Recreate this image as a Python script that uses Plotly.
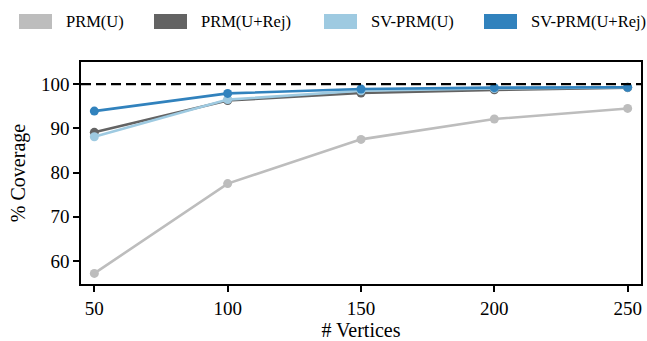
import plotly.graph_objects as go

vertices = [50, 100, 150, 200, 250]
series_names = ["PRM(U)", "PRM(U+Rej)", "SV-PRM(U)", "SV-PRM(U+Rej)"]
prm_u = [57.2, 77.5, 87.5, 92.1, 94.5]
prm_u_rej = [89.1, 96.3, 98.0, 98.7, 99.2]
sv_prm_u = [88.1, 96.5, 98.5, 99.0, 99.3]
sv_prm_u_rej = [93.9, 97.9, 98.9, 99.2, 99.3]
colors = ["#bdbdbd", "#636363", "#9ecae1", "#3182bd"]
y_ticks = [60, 70, 80, 90, 100]
x_ticks = [50, 100, 150, 200, 250]

FONT = "Liberation Serif"
W, H = 647, 341
ml, mr, mt, mb = 81, 6, 62, 57

fig = go.Figure()
for name, ys, c in zip(series_names, [prm_u, prm_u_rej, sv_prm_u, sv_prm_u_rej], colors):
    fig.add_trace(go.Scatter(x=vertices, y=ys, mode="lines+markers", name=name,
                             line=dict(color=c, width=2.6),
                             marker=dict(color=c, size=9), showlegend=False))

fig.add_shape(type="line", xref="paper", yref="y", x0=0, x1=1, y0=100, y1=100,
              line=dict(color="black", width=2.2, dash="10px,5px"))

def px_to_paper_x(px):
    return (px - ml) / (W - ml - mr)
def py_to_paper_y(py):
    return (H - mb - py) / (H - mt - mb)

leg_x = [19, 154, 324, 484]
for lx, name, c in zip(leg_x, series_names, colors):
    fig.add_shape(type="rect", xref="paper", yref="paper",
                  x0=px_to_paper_x(lx), x1=px_to_paper_x(lx + 33),
                  y0=py_to_paper_y(29), y1=py_to_paper_y(14),
                  fillcolor=c, line=dict(width=0))
    fig.add_annotation(xref="paper", yref="paper", x=px_to_paper_x(lx + 45),
                       y=py_to_paper_y(21.5), text=name, showarrow=False,
                       xanchor="left", yanchor="middle",
                       font=dict(family=FONT, size=16.5, color="black"))

fig.update_layout(
    template="none",
    width=W, height=H, margin=dict(l=ml, r=mr, t=mt, b=mb),
    font=dict(family=FONT, size=19, color="black"),
    plot_bgcolor="white", paper_bgcolor="white", showlegend=False,
    xaxis=dict(range=[45, 255], tickmode="array", tickvals=x_ticks,
               showline=True, linecolor="black", linewidth=1.5, mirror=True,
               ticks="outside", ticklen=6, tickwidth=1.5, tickcolor="black",
               showgrid=False, zeroline=False,
               tickfont=dict(family=FONT, size=19, color="black"),
               title=dict(text="# Vertices", font=dict(family=FONT, size=20, color="black"), standoff=6)),
    yaxis=dict(range=[54.8, 105.0], tickmode="array", tickvals=y_ticks,
               showline=True, linecolor="black", linewidth=1.5, mirror=True,
               ticks="outside", ticklen=6, tickwidth=1.5, tickcolor="black",
               showgrid=False, zeroline=False,
               tickfont=dict(family=FONT, size=19, color="black"),
               title=dict(text="% Coverage", font=dict(family=FONT, size=20, color="black"), standoff=10)),
)
fig.write_html("out.html")
